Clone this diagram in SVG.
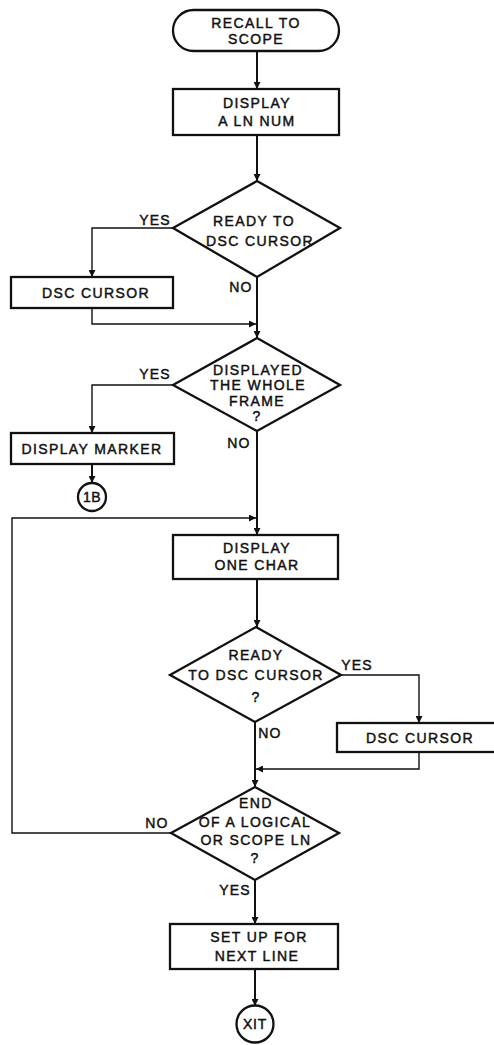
<svg xmlns="http://www.w3.org/2000/svg" width="494" height="1045" viewBox="0 0 494 1045">
<defs>
<style>
.s{fill:#fff;stroke:#111;stroke-width:2.3}
.c{fill:none;stroke:#111;stroke-width:1.4}
.m{fill:none;stroke:#111;stroke-width:2}
.t{font-family:"Liberation Sans",Arial,sans-serif;font-size:14px;letter-spacing:1.4px;fill:#111;stroke:#111;stroke-width:0.45;text-anchor:middle}
.l{font-family:"Liberation Sans",Arial,sans-serif;font-size:14px;letter-spacing:1.2px;fill:#111;stroke:#111;stroke-width:0.45;text-anchor:middle}
</style>
<marker id="a" viewBox="0 0 10 10" refX="10" refY="5" markerWidth="7" markerHeight="7" markerUnits="userSpaceOnUse" orient="auto">
<path d="M0,0 L10,5 L0,10 Z" fill="#111"/>
</marker>
</defs>
<rect width="494" height="1045" fill="#fff"/>
<g id="connectors">
<path class="m" d="M257,51 V89" marker-end="url(#a)"/>
<path class="m" d="M257,135 V181" marker-end="url(#a)"/>
<path class="c" d="M173,228 H92 V277" marker-end="url(#a)"/>
<path class="m" d="M257,277 V338" marker-end="url(#a)"/>
<path class="c" d="M92,308 V324 H256" marker-end="url(#a)"/>
<path class="c" d="M173,385 H92 V433" marker-end="url(#a)"/>
<path class="m" d="M92,464 V483" marker-end="url(#a)"/>
<path class="m" d="M257,431 V535" marker-end="url(#a)"/>
<path class="c" d="M171,833 H12 V518 H256" marker-end="url(#a)"/>
<path class="m" d="M257,579 V627" marker-end="url(#a)"/>
<path class="c" d="M341,675 H419 V723" marker-end="url(#a)"/>
<path class="m" d="M255,722 V787" marker-end="url(#a)"/>
<path class="c" d="M419,752 V769 H256" marker-end="url(#a)"/>
<path class="m" d="M255,880 V924" marker-end="url(#a)"/>
<path class="m" d="M255,969 V1006" marker-end="url(#a)"/>
<text class="l" x="155" y="225">YES</text>
<text class="l" x="241" y="292">NO</text>
<text class="l" x="155" y="379">YES</text>
<text class="l" x="239" y="448">NO</text>
<text class="l" x="357" y="670">YES</text>
<text class="l" x="270" y="738">NO</text>
<text class="l" x="157" y="828">NO</text>
<text class="l" x="235" y="895">YES</text>
</g>
<g id="start">
<rect class="s" x="173" y="10" width="166" height="41" rx="20.5"/>
<text class="t" x="256" y="28">RECALL TO</text>
<text class="t" x="256" y="44">SCOPE</text>
</g>
<g id="display-ln-num">
<rect class="s" x="173" y="89" width="166" height="46"/>
<text class="t" x="257" y="108">DISPLAY</text>
<text class="t" x="257" y="126">A LN NUM</text>
</g>
<g id="ready-dsc-1">
<polygon class="s" points="257,181 340,228 257,277 173,228"/>
<text class="t" x="254" y="226">READY TO</text>
<text class="t" x="260" y="246">DSC CURSOR</text>
</g>
<g id="dsc-cursor-1">
<rect class="s" x="11" y="277" width="162" height="31"/>
<text class="t" x="96" y="298">DSC CURSOR</text>
</g>
<g id="displayed-whole-frame">
<polygon class="s" points="257,338 340,385 257,431 173,385"/>
<text class="t" x="258" y="375">DISPLAYED</text>
<text class="t" x="258" y="390">THE WHOLE</text>
<text class="t" x="257" y="406">FRAME</text>
<text class="t" x="257" y="421">?</text>
</g>
<g id="display-marker">
<rect class="s" x="11" y="433" width="163" height="31"/>
<text class="t" x="92" y="454">DISPLAY MARKER</text>
</g>
<g id="conn-1b">
<circle class="s" cx="92" cy="497" r="14"/>
<text class="t" x="92" y="502" style="letter-spacing:0.5px">1B</text>
</g>
<g id="display-one-char">
<rect class="s" x="173" y="535" width="165" height="44"/>
<text class="t" x="257" y="553">DISPLAY</text>
<text class="t" x="257" y="570">ONE CHAR</text>
</g>
<g id="ready-dsc-2">
<polygon class="s" points="256,627 341,675 255,722 170,675"/>
<text class="t" x="256" y="660">READY</text>
<text class="t" x="256" y="680">TO DSC CURSOR</text>
<text class="t" x="256" y="702">?</text>
</g>
<g id="dsc-cursor-2">
<rect class="s" x="337" y="723" width="162" height="29"/>
<text class="t" x="420" y="743">DSC CURSOR</text>
</g>
<g id="end-logical">
<polygon class="s" points="255,787 339,833 255,880 171,833"/>
<text class="t" x="256" y="808">END</text>
<text class="t" x="255" y="827">OF A LOGICAL</text>
<text class="t" x="256" y="845">OR SCOPE LN</text>
<text class="t" x="255" y="863">?</text>
</g>
<g id="setup-next-line">
<rect class="s" x="170" y="924" width="168" height="45"/>
<text class="t" x="259" y="942">SET UP FOR</text>
<text class="t" x="257" y="961">NEXT LINE</text>
</g>
<g id="xit">
<circle class="s" cx="255" cy="1024" r="18.5"/>
<text class="t" x="255" y="1029" style="letter-spacing:0.8px">XIT</text>
</g>
</svg>
